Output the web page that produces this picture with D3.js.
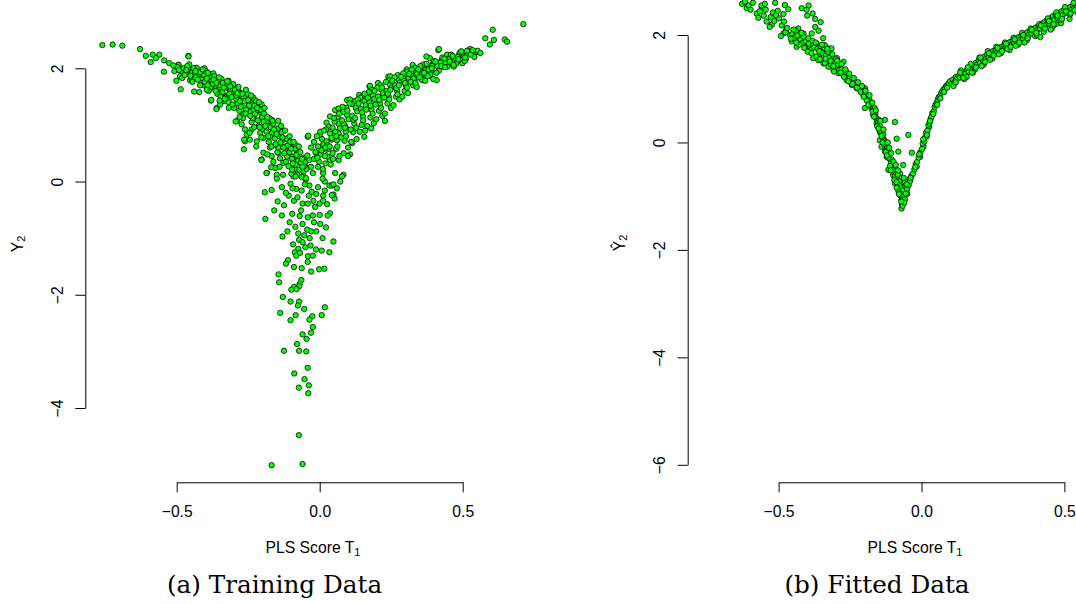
<!DOCTYPE html>
<html>
<head>
<meta charset="utf-8">
<script src="https://cdn.jsdelivr.net/npm/d3@7"></script>
<style>
  html, body { margin: 0; padding: 0; background: #fff; }
  svg { display: block; }
</style>
</head>
<body>
<svg id="chart" width="1076" height="604"></svg>
<script>
// ---- Training data: PLS score T1 against response Y2 ----
const trainLeftBranch = [
  [-0.760,2.41],[-0.724,2.42],[-0.690,2.40],[-0.628,2.34],[-0.608,2.22],[-0.584,2.24],[-0.561,2.24],
  [-0.591,2.11],[-0.573,2.18],[-0.544,2.14],[-0.526,2.09],[-0.545,1.94],[-0.459,2.22],[-0.494,2.06],
  [-0.501,1.78],[-0.486,1.63],[-0.439,1.59],[-0.421,1.58],[-0.380,1.43],[-0.360,1.30],
  [-0.483,1.95],[-0.488,1.86],[-0.471,1.89],[-0.456,2.07],[-0.459,1.98],[-0.453,1.79],[-0.442,1.86],
  [-0.430,2.01],[-0.424,1.89],[-0.407,1.98],[-0.401,1.89],[-0.409,1.78],[-0.407,1.70],[-0.383,1.89],
  [-0.389,1.72],[-0.372,1.91],[-0.366,1.69],[-0.354,1.63],[-0.343,1.81],[-0.337,1.69],[-0.319,1.78],
  [-0.302,1.72],[-0.314,1.60],[-0.343,1.54],[-0.331,1.42],[-0.348,1.36],[-0.325,1.51],[-0.302,1.54],
  [-0.284,1.60],[-0.273,1.51],[-0.261,1.42],[-0.255,1.33],[-0.232,1.48],[-0.244,1.24],[-0.267,1.19],
  [-0.290,1.07],[-0.273,1.01],[-0.261,0.92],[-0.232,1.13],[-0.220,1.24],[-0.203,1.36],[-0.197,1.19],
  [-0.185,1.07],[-0.214,0.98],[-0.238,0.92],[-0.255,0.83],[-0.261,0.71],[-0.265,0.57],[-0.244,0.74],
  [-0.220,0.71],[-0.197,0.77],[-0.174,0.98],[-0.162,0.86],[-0.145,1.07],[-0.133,0.89],[-0.127,0.74],
  [-0.150,0.63],[-0.174,0.60],[-0.197,0.51],[-0.203,0.39],[-0.168,0.45],[-0.145,0.51],[-0.115,0.60],
  [-0.104,0.45],[-0.080,0.54],[-0.075,0.42],[-0.127,0.33],[-0.156,0.24],[-0.185,0.15],[-0.150,0.12],
  [-0.092,0.09],[-0.057,0.18],[-0.051,0.30],
  [-0.459,2.21],[-0.493,2.06],[-0.445,1.94],[-0.397,1.85],[-0.349,1.76],[-0.319,1.74],[-0.276,1.56],
  [-0.228,1.44],[-0.204,1.21],[-0.168,1.09],[-0.144,0.85],[-0.120,0.62],[-0.096,0.44],[-0.072,0.21],
  [-0.379,1.44],[-0.361,1.28],[-0.294,1.06],[-0.264,0.74],[-0.204,0.38],[-0.186,0.15],[-0.403,2.00],
  [-0.090,0.65],[-0.078,0.50],[-0.086,0.65],
  [-0.508,1.95],[-0.497,2.02],[-0.492,1.97],[-0.512,2.05],
  [-0.476,2.00],[-0.468,1.92],[-0.481,1.83],[-0.463,2.04],[-0.472,1.88],[-0.466,1.97],
  [-0.446,1.93],[-0.437,1.90],[-0.448,1.82],[-0.441,2.00],[-0.433,1.84],[-0.445,1.76],
  [-0.418,1.93],[-0.412,1.81],[-0.404,1.88],[-0.415,1.74],[-0.398,1.95],[-0.409,1.98],[-0.402,1.76],
  [-0.386,1.83],[-0.378,1.78],[-0.391,1.92],[-0.374,1.72],[-0.382,1.65],[-0.369,1.86],[-0.388,1.60],
  [-0.356,1.76],[-0.349,1.70],[-0.344,1.62],[-0.358,1.55],[-0.352,1.84],[-0.339,1.74],[-0.347,1.50],
  [-0.327,1.66],[-0.321,1.72],[-0.316,1.55],[-0.329,1.48],[-0.318,1.40],[-0.311,1.64],[-0.323,1.77],
  [-0.296,1.62],[-0.291,1.45],[-0.286,1.38],[-0.299,1.30],[-0.284,1.67],[-0.293,1.52],[-0.281,1.25],
  [-0.266,1.48],[-0.262,1.36],[-0.257,1.27],[-0.268,1.12],[-0.253,1.55],[-0.259,1.20],[-0.264,1.42],
  [-0.236,1.36],[-0.231,1.28],[-0.226,1.19],[-0.238,1.05],[-0.222,1.42],[-0.229,0.96],[-0.234,1.12],
  [-0.206,1.27],[-0.201,1.14],[-0.196,1.05],[-0.208,0.86],[-0.193,1.30],[-0.199,0.93],[-0.204,0.78],
  [-0.176,1.12],[-0.171,0.96],[-0.167,0.86],[-0.178,0.70],[-0.163,1.02],[-0.169,0.62],[-0.174,0.79],
  [-0.146,0.94],[-0.141,0.80],[-0.137,0.69],[-0.148,0.52],[-0.133,0.87],[-0.139,0.41],[-0.144,0.60],
  [-0.116,0.76],[-0.111,0.64],[-0.106,0.52],[-0.118,0.35],[-0.103,0.70],[-0.109,0.27],[-0.114,0.44],
  [-0.086,0.58],[-0.081,0.47],[-0.077,0.36],[-0.088,0.22],[-0.073,0.62],[-0.079,0.12],[-0.084,0.30],
  [-0.056,0.42],[-0.051,0.34],[-0.046,0.22],[-0.058,0.10],[-0.043,0.46],[-0.049,0.03],[-0.054,0.27],
  [-0.452,1.87],[-0.434,1.95],[-0.426,1.80],[-0.418,1.70],[-0.395,1.82],[-0.392,1.70],[-0.371,1.80],
  [-0.364,1.60],[-0.361,1.74],[-0.340,1.58],[-0.335,1.66],[-0.332,1.46],[-0.313,1.68],[-0.308,1.49],
  [-0.305,1.36],[-0.288,1.56],[-0.279,1.42],[-0.276,1.32],[-0.270,1.55],[-0.258,1.62],[-0.250,1.44],
  [-0.247,1.34],[-0.243,1.16],[-0.240,1.52],[-0.228,1.34],[-0.219,1.30],[-0.216,1.08],[-0.212,1.40],
  [-0.210,0.96],[-0.195,1.20],[-0.190,0.98],[-0.186,0.88],[-0.183,1.14],[-0.180,0.80],[-0.165,1.07],
  [-0.160,0.92],[-0.157,0.76],[-0.154,0.66],[-0.151,0.84],[-0.135,0.98],[-0.130,0.78],[-0.127,0.60],
  [-0.124,0.50],[-0.121,0.90],[-0.105,0.80],[-0.100,0.58],[-0.097,0.40],[-0.094,0.32],[-0.091,0.70],
  [-0.068,0.52],[-0.066,0.33],[-0.063,0.08],[-0.099,0.14],[-0.140,0.26],[-0.162,0.35],[-0.183,0.48],
  [-0.222,0.62],[-0.245,0.86],[-0.280,1.14],[-0.318,1.30],[-0.350,1.43],[-0.395,1.62]
];

const trainCentre = [
  [-0.060,0.26],[-0.036,0.38],[-0.024,0.15],[0.012,0.15],[0.036,0.38],[0.024,0.56],[-0.012,0.50],
  [-0.042,0.79],[0.006,0.62],[-0.006,0.26],[-0.084,0.09],[-0.048,0.06],[0.018,0.00],[0.054,0.15],
  [0.066,0.38],[0.084,0.50],[0.042,0.74],[0.066,0.85],[0.090,0.97],[-0.096,0.21],[-0.030,0.26],
  [-0.082,-0.13],[-0.063,-0.16],[-0.038,-0.25],[-0.012,-0.22],[0.012,-0.25],[0.034,-0.07],[0.036,-0.56],
  [0.022,-0.81],[0.002,-0.75],[-0.012,-0.88],[-0.030,-0.88],[-0.044,-0.85],[-0.060,-0.75],[-0.070,-0.61],
  [-0.065,-0.51],[-0.042,-0.63],[-0.024,-0.60],[0.000,-0.59],[-0.060,-0.39],[-0.042,-0.39],[-0.022,-0.34],
  [0.000,-0.39],[0.012,-0.34],[-0.090,-0.34],[-0.096,-0.57],[-0.075,-0.92],[-0.054,-0.95],[-0.072,-1.03],
  [-0.060,-1.07],[-0.050,-1.16],[-0.032,-1.13],[-0.013,-1.20],[-0.075,-1.19],[-0.087,-1.25],[-0.082,-1.31],
  [-0.069,-1.26],[-0.041,-1.32],[-0.024,-1.31],[-0.042,-1.42],[-0.147,-0.35],[-0.125,-0.42],[-0.108,-0.25],
  [-0.132,-0.10],[-0.102,-0.04],[-0.036,-0.07],[-0.006,-0.10],[0.018,-0.16],[0.043,-0.07],
  [-0.118,-0.20],[-0.095,-0.12],[-0.078,-0.28],[-0.052,-0.05],[-0.028,-0.18],[-0.016,-0.45],[0.026,-0.40],
  [0.052,-0.30],[-0.105,-0.72],[-0.085,-0.80],[-0.035,-1.00],[0.010,-1.00],[-0.020,-0.72],[0.028,-0.60],
  [-0.150,0.05],[-0.170,0.25],[-0.128,0.12],[-0.062,0.40],[-0.020,0.40],[0.020,0.32],[0.045,0.50],
  [-0.030,0.60],[0.010,0.05],[0.060,-0.12],[0.106,0.48],[0.083,0.12],[0.048,-0.23],
  [-0.192,-0.19],[-0.168,-0.15],[-0.190,-0.66],[-0.159,-0.51],[-0.132,-0.60],[-0.113,-0.88],[-0.130,-0.97],
  [0.048,-1.06],[0.034,-1.25],[0.007,-1.22],[-0.093,-1.11],[-0.111,-1.39],[-0.118,-1.45],[-0.090,-1.51],
  [-0.063,-1.53],[-0.030,-1.59],[-0.002,-1.55],[0.016,-1.54],[-0.144,-1.64],[-0.142,-1.78],[-0.064,-1.74],
  [-0.070,-1.81],[-0.090,-1.86],[-0.072,-1.85],[-0.099,-1.91],[-0.081,-1.90],[-0.129,-2.04],[-0.102,-2.12],
  [-0.072,-2.12],[-0.076,-2.19],[-0.054,-2.25],[0.018,-2.22],[-0.138,-2.32],[-0.084,-2.36],[-0.102,-2.45],
  [-0.026,-2.38],[-0.036,-2.44],[0.007,-2.36],[-0.024,-2.57],[-0.030,-2.67],[-0.060,-2.70],[-0.046,-2.78],
  [-0.079,-2.87],[-0.072,-2.99],[-0.047,-3.00],[-0.125,-2.99],[-0.042,-3.29],[-0.089,-3.39],[-0.053,-3.49],
  [-0.073,-3.64],[-0.038,-3.60],[-0.040,-3.74],[-0.073,-4.48],[-0.168,-5.01],[-0.060,-4.99]
];

const trainRightBranch = [
  [-0.040,0.81],[0.000,0.82],[0.054,1.26],[0.096,1.44],[0.138,1.53],[0.174,1.68],[0.204,1.74],[0.240,1.85],
  [0.325,2.06],[0.385,2.18],[0.415,2.32],[0.445,2.24],[0.493,2.29],[0.523,2.32],[0.544,2.28],[0.469,2.03],
  [0.499,2.09],[0.361,1.79],[0.409,1.79],[0.228,1.07],[0.156,0.79],[0.180,0.94],[0.099,0.45],[0.072,0.00],
  [0.042,-0.24],[0.579,2.53],[0.605,2.68],[0.595,2.42],[0.609,2.50],[0.647,2.51],[0.655,2.47],[0.712,2.78],
  [0.114,0.68],[0.078,0.09],[0.036,1.15],[0.066,1.29],[0.373,2.21],[0.417,2.34],[0.526,2.34],[0.547,2.29],
  [0.496,2.25],[0.397,1.81],[0.176,1.69],[0.246,1.86],[0.304,1.98],[0.024,1.04],[0.106,1.45],[0.048,-0.05],
  [-0.006,0.62],[0.004,0.48],[0.008,0.75],[-0.002,0.35],[0.011,0.22],[0.002,0.88],[0.006,0.55],[-0.008,0.42],[0.013,0.66],
  [0.024,0.71],[0.031,0.58],[0.036,0.85],[0.027,0.44],[0.039,0.30],[0.033,0.97],[0.022,0.92],[0.028,0.64],[0.041,0.77],
  [0.054,0.88],[0.061,0.73],[0.066,1.02],[0.057,0.58],[0.069,0.45],[0.063,1.14],[0.052,1.06],[0.058,0.80],[0.071,0.94],
  [0.084,1.02],[0.091,0.88],[0.096,1.17],[0.087,0.72],[0.099,0.60],[0.093,1.30],[0.082,1.23],[0.088,0.95],[0.101,1.10],
  [0.114,1.16],[0.121,1.02],[0.126,1.30],[0.117,0.87],[0.129,0.75],[0.123,1.42],[0.112,1.37],[0.118,1.09],[0.131,1.24],
  [0.144,1.28],[0.151,1.15],[0.156,1.42],[0.147,1.00],[0.159,0.90],[0.153,1.52],[0.142,1.48],[0.148,1.22],[0.161,1.35],
  [0.174,1.40],[0.181,1.27],[0.186,1.52],[0.177,1.13],[0.189,1.03],[0.183,1.62],[0.172,1.58],[0.178,1.34],[0.191,1.46],
  [0.204,1.50],[0.211,1.38],[0.216,1.62],[0.207,1.25],[0.219,1.16],[0.213,1.70],[0.202,1.66],[0.208,1.44],[0.221,1.56],
  [0.234,1.60],[0.241,1.50],[0.246,1.71],[0.237,1.38],[0.249,1.30],[0.243,1.79],[0.232,1.76],[0.238,1.55],[0.251,1.66],
  [0.264,1.70],[0.271,1.60],[0.276,1.80],[0.267,1.50],[0.279,1.45],[0.273,1.88],[0.262,1.84],[0.268,1.65],[0.281,1.75],
  [0.294,1.78],[0.301,1.70],[0.306,1.87],[0.297,1.60],[0.309,1.56],[0.303,1.94],[0.292,1.91],[0.298,1.74],[0.311,1.83],
  [0.324,1.86],[0.331,1.78],[0.336,1.94],[0.327,1.70],[0.339,1.67],[0.333,2.01],[0.322,1.98],[0.328,1.82],[0.341,1.90],
  [0.354,1.94],[0.361,1.87],[0.366,2.01],[0.357,1.80],[0.369,1.78],[0.363,2.07],[0.352,2.04],[0.358,1.90],[0.371,1.97],
  [0.384,2.01],[0.391,1.95],[0.396,2.08],[0.387,1.89],[0.399,2.13],[0.393,2.04],[0.381,1.98],
  [0.414,2.07],[0.421,2.01],[0.426,2.14],[0.417,1.96],[0.429,2.19],[0.423,2.10],[0.411,2.04],
  [0.444,2.13],[0.451,2.07],[0.456,2.19],[0.447,2.03],[0.459,2.24],[0.453,2.16],[0.441,2.10],
  [0.474,2.17],[0.481,2.12],[0.486,2.23],[0.477,2.08],[0.489,2.27],[0.483,2.20],
  [0.504,2.21],[0.511,2.16],[0.516,2.26],[0.507,2.13],[0.519,2.30],
  [0.534,2.25],[0.541,2.20],[0.552,2.31],[0.562,2.27],
  [-0.020,0.70],[-0.015,0.52],[-0.010,0.80],[0.015,0.90],[0.018,0.45],[0.020,0.60],[0.035,0.62],
  [0.045,0.95],[0.047,0.40],[0.050,1.12],[0.062,0.62],[0.068,1.20],[0.075,0.78],[0.078,1.08],
  [0.080,1.32],[0.092,0.80],[0.097,1.25],[0.104,1.38],[0.108,0.92],[0.110,0.70],[0.124,1.12],
  [0.128,0.95],[0.133,1.45],[0.136,1.38],[0.140,0.88],[0.152,1.08],[0.157,1.55],[0.163,1.27],
  [0.166,0.98],[0.168,1.48],[0.185,1.20],[0.192,1.60],[0.195,1.36],[0.198,1.10],[0.214,1.30],
  [0.218,1.66],[0.225,1.48],[0.228,1.20],[0.243,1.45],[0.247,1.62],[0.254,1.78],[0.258,1.35],
  [0.272,1.54],[0.277,1.70],[0.285,1.85],[0.289,1.50],[0.305,1.66],[0.313,1.90],[0.318,1.76],
  [0.335,1.74],[0.345,1.98],[0.348,1.84],[0.365,1.92],[0.374,2.08],[0.378,1.86],[0.392,2.00],
  [0.405,2.12],[0.408,1.92],[0.425,2.04],[0.436,2.17],[0.438,2.02],[0.455,2.12],[0.465,2.22],
  [0.468,2.06],[0.485,2.16],[0.495,2.30],[0.508,2.19],[0.515,2.31],[0.528,2.24],[0.535,2.32]
];

// ---- Fitted values: PLS score T1 against predicted Y2 ----
const fittedLeftBranch = [
  [-0.612,2.50],[-0.559,2.52],[-0.577,2.40],[-0.545,2.47],[-0.499,2.31],[-0.483,2.39],[-0.542,2.25],
  [-0.524,2.19],[-0.419,2.50],[-0.400,2.36],[-0.381,2.40],[-0.353,2.24],[-0.372,2.15],[-0.360,2.08],
  [-0.384,2.03],[-0.483,2.03],[-0.474,2.09],[-0.460,2.00],[-0.454,1.88],[-0.443,1.91],[-0.431,2.12],
  [-0.425,2.00],[-0.413,2.03],[-0.437,1.78],[-0.408,1.78],[-0.391,1.78],[-0.367,1.84],[-0.344,1.94],
  [-0.338,1.81],[-0.326,1.75],[-0.315,1.75],[-0.349,1.69],[-0.379,1.57],[-0.361,1.53],[-0.343,1.47],
  [-0.326,1.41],[-0.320,1.66],[-0.296,1.57],[-0.302,1.47],[-0.285,1.41],[-0.273,1.50],[-0.308,1.35],
  [-0.291,1.29],[-0.273,1.25],[-0.262,1.16],[-0.244,1.19],[-0.244,1.07],[-0.227,1.01],[-0.215,0.98],
  [-0.198,1.01],[-0.203,0.88],[-0.192,0.82],[-0.180,0.73],[-0.198,0.64],[-0.175,0.64],[-0.169,0.51],
  [-0.157,0.36],[-0.146,0.20],[-0.128,0.42],[-0.093,0.38],[-0.146,0.04],[-0.140,-0.08],[-0.128,-0.17],
  [-0.087,0.07],[-0.046,0.14],[-0.034,-0.19],[-0.122,-0.27],[-0.104,-0.39],[-0.081,-0.17],[-0.064,-0.42],
  [-0.116,-0.51],[-0.099,-0.61],[-0.075,-0.58],[-0.093,-0.76],[-0.075,-0.83],[-0.058,-0.73],[-0.040,-0.67],
  [-0.064,-0.95],[-0.070,-1.07],[-0.070,-1.23],[-0.052,-0.89],[-0.046,-0.76],
  [-0.628,2.58],[-0.605,2.55],[-0.590,2.60],[-0.618,2.62],[-0.598,2.47],
  [-0.566,2.44],[-0.552,2.36],[-0.560,2.55],[-0.571,2.32],[-0.548,2.58],
  [-0.528,2.33],[-0.515,2.26],[-0.520,2.42],[-0.531,2.15],[-0.509,2.37],[-0.512,2.60],[-0.503,2.45],
  [-0.489,2.18],[-0.476,2.05],[-0.481,2.25],[-0.492,1.98],[-0.470,2.13],[-0.466,2.48],[-0.478,2.56],
  [-0.452,2.02],[-0.446,1.95],[-0.440,2.08],[-0.457,1.93],[-0.435,1.99],
  [-0.424,1.91],[-0.417,1.85],[-0.412,1.97],[-0.428,1.82],[-0.405,1.88],[-0.402,2.47],[-0.395,2.55],
  [-0.394,1.84],[-0.387,1.72],[-0.382,1.89],[-0.398,1.69],[-0.376,1.77],[-0.372,2.30],
  [-0.364,1.74],[-0.357,1.62],[-0.352,1.79],[-0.368,1.60],[-0.346,1.66],[-0.355,1.55],
  [-0.334,1.63],[-0.327,1.52],[-0.322,1.58],[-0.338,1.48],[-0.316,1.45],[-0.329,1.69],
  [-0.304,1.50],[-0.298,1.40],[-0.293,1.45],[-0.308,1.42],[-0.288,1.35],[-0.300,1.55],
  [-0.275,1.34],[-0.268,1.27],[-0.262,1.30],[-0.279,1.36],[-0.258,1.21],[-0.271,1.22],
  [-0.246,1.17],[-0.239,1.12],[-0.234,1.14],[-0.250,1.20],[-0.229,1.06],[-0.242,1.09],
  [-0.217,1.02],[-0.210,0.97],[-0.205,0.99],[-0.221,1.04],[-0.200,0.91],[-0.213,0.94],
  [-0.194,0.86],[-0.188,0.80],[-0.184,0.83],[-0.197,0.90],[-0.180,0.76],[-0.191,0.78],
  [-0.174,0.68],[-0.168,0.60],[-0.164,0.64],[-0.177,0.71],[-0.161,0.55],[-0.171,0.58],
  [-0.158,0.45],[-0.152,0.38],[-0.149,0.42],[-0.161,0.48],[-0.146,0.32],[-0.155,0.30],
  [-0.143,0.18],[-0.137,0.10],[-0.134,0.15],[-0.146,0.22],[-0.131,0.05],[-0.140,0.12],[-0.128,0.02],
  [-0.128,-0.06],[-0.122,-0.14],[-0.119,-0.08],[-0.131,-0.02],[-0.116,-0.20],[-0.125,-0.18],[-0.113,-0.10],
  [-0.113,-0.30],[-0.107,-0.38],[-0.104,-0.32],[-0.116,-0.28],[-0.101,-0.46],[-0.110,-0.44],[-0.098,-0.36],[-0.093,-0.50],
  [-0.098,-0.55],[-0.092,-0.62],[-0.089,-0.56],[-0.101,-0.52],[-0.086,-0.68],[-0.095,-0.70],[-0.083,-0.60],[-0.078,-0.72],
  [-0.084,-0.78],[-0.078,-0.86],[-0.075,-0.80],[-0.087,-0.74],[-0.072,-0.92],[-0.081,-0.90],[-0.069,-0.84],[-0.064,-0.88],
  [-0.072,-1.00],[-0.067,-1.06],[-0.064,-1.12],[-0.075,-0.98],[-0.061,-1.00],[-0.068,-1.15],[-0.058,-1.06],[-0.066,-1.18],
  [-0.448,2.10],[-0.438,1.86],[-0.420,2.04],[-0.410,1.76],[-0.396,1.94],[-0.385,1.66],[-0.370,1.86],
  [-0.358,1.70],[-0.348,1.82],[-0.336,1.56],[-0.330,1.74],[-0.318,1.52],[-0.312,1.64],[-0.306,1.32],
  [-0.295,1.52],[-0.283,1.30],[-0.280,1.46],[-0.266,1.36],[-0.256,1.14],[-0.253,1.28],[-0.237,1.20],
  [-0.226,1.02],[-0.222,1.12],[-0.208,1.05],[-0.202,0.85],[-0.196,0.96],[-0.186,0.70],[-0.182,0.88],
  [-0.172,0.74],[-0.166,0.48],[-0.160,0.60],[-0.150,0.26],[-0.144,0.40],[-0.136,0.00],[-0.133,0.24],
  [-0.121,-0.24],[-0.118,0.00],[-0.108,-0.52],[-0.106,-0.20],[-0.090,-0.42],[-0.087,-0.84],[-0.082,-0.52],
  [-0.079,-0.96],[-0.062,-0.66],[-0.056,-0.82],[-0.050,-0.96],[-0.060,-1.12],[-0.071,-1.10]
];

const fittedRightBranch = [
  [-0.017,-0.45],[-0.005,-0.27],[0.007,-0.08],[0.018,0.11],[0.027,0.29],
  [-0.055,-0.95],[-0.050,-0.86],[-0.045,-0.80],[-0.040,-0.72],[-0.035,-0.62],[-0.030,-0.58],[-0.025,-0.50],
  [-0.020,-0.40],[-0.015,-0.36],[-0.010,-0.28],[-0.004,-0.18],[0.002,-0.12],[0.004,-0.02],[0.010,0.02],
  [0.013,0.10],[0.016,0.18],[0.021,0.22],[0.024,0.32],[0.028,0.36],[0.032,0.44],[0.035,0.48],[0.038,0.55],
  [0.043,0.58],[0.046,0.66],[0.049,0.70],[0.053,0.74],[0.057,0.80],[0.060,0.84],[0.064,0.86],[0.069,0.92],
  [0.073,0.95],[0.077,0.99],[0.082,1.00],[0.086,1.05],[0.091,1.07],[0.095,1.10],[-0.052,-0.78],[-0.038,-0.66],
  [-0.022,-0.46],[-0.008,-0.22],[0.006,0.06],[0.019,0.14],[0.030,0.40],[0.041,0.53],[0.055,0.70],[0.066,0.82],
  [0.079,0.94],[0.090,1.02],
  [0.100,1.14],[0.106,1.10],[0.110,1.17],[0.115,1.12],[0.120,1.22],[0.125,1.19],[0.130,1.24],[0.135,1.21],
  [0.140,1.28],[0.145,1.25],[0.150,1.31],[0.155,1.28],[0.160,1.36],[0.165,1.32],[0.170,1.40],[0.175,1.37],
  [0.180,1.44],[0.185,1.40],[0.190,1.48],[0.195,1.45],[0.200,1.53],[0.205,1.48],[0.210,1.56],[0.215,1.52],
  [0.220,1.60],[0.225,1.55],[0.230,1.64],[0.235,1.59],[0.240,1.67],[0.245,1.62],[0.250,1.70],[0.255,1.66],
  [0.260,1.73],[0.265,1.68],[0.270,1.76],[0.275,1.71],[0.280,1.78],[0.285,1.74],[0.290,1.81],[0.295,1.76],
  [0.300,1.84],[0.305,1.79],[0.310,1.87],[0.315,1.82],[0.320,1.90],[0.325,1.85],[0.330,1.93],[0.335,1.88],
  [0.340,1.96],[0.345,1.91],[0.350,1.99],[0.355,1.94],[0.360,2.02],[0.365,1.97],[0.370,2.05],[0.375,2.00],
  [0.380,2.08],[0.385,2.03],[0.390,2.11],[0.395,2.06],[0.400,2.14],[0.405,2.09],[0.410,2.17],[0.415,2.12],
  [0.420,2.21],[0.425,2.15],[0.430,2.24],[0.435,2.18],[0.440,2.28],[0.445,2.22],[0.450,2.31],[0.455,2.25],
  [0.460,2.35],[0.465,2.29],[0.470,2.38],[0.475,2.32],[0.480,2.41],[0.485,2.35],[0.490,2.44],[0.495,2.38],
  [0.500,2.47],[0.505,2.41],[0.510,2.50],[0.515,2.44],[0.520,2.52],[0.525,2.47],[0.530,2.55],[0.535,2.50],
  [0.540,2.58],[0.545,2.53],
  [0.112,1.05],[0.138,1.34],[0.158,1.22],[0.172,1.46],[0.188,1.36],[0.203,1.58],[0.218,1.45],[0.232,1.70],
  [0.248,1.56],[0.262,1.78],[0.278,1.66],[0.292,1.86],[0.308,1.72],[0.322,1.95],[0.338,1.82],[0.352,2.04],
  [0.368,1.90],[0.382,2.12],[0.398,1.98],[0.412,2.20],[0.428,2.06],[0.442,2.31],[0.458,2.14],[0.472,2.42],
  [0.488,2.22],[0.502,2.52],[0.518,2.30],[0.532,2.60],[0.548,2.40],[0.404,2.00],[0.416,1.96],[0.452,2.10],
  [0.486,2.28],[0.520,2.38],[0.470,2.20],[0.360,1.86],[0.330,1.80],[0.300,1.74],[0.270,1.64],[0.240,1.54],
  [0.210,1.42],[0.180,1.30],[0.150,1.18],
  [0.120,1.12],[0.135,1.30],[0.146,1.20],[0.162,1.40],[0.176,1.30],[0.190,1.40],[0.206,1.58],[0.222,1.50],
  [0.236,1.66],[0.252,1.62],[0.266,1.76],[0.282,1.70],[0.296,1.84],[0.312,1.78],[0.326,1.92],[0.342,1.86],
  [0.356,2.00],[0.372,1.94],[0.386,2.10],[0.402,2.04],[0.418,2.18],[0.432,2.12],[0.446,2.26],[0.462,2.20],
  [0.476,2.36],[0.492,2.30],[0.506,2.44],[0.522,2.40],[0.536,2.46],[0.550,2.55]
];

// ---- Axis ticks and labels ----
const xTicks = [-0.5, 0, 0.5];
const trainYTicks = [-4, -2, 0, 2];
const fittedYTicks = [-6, -4, -2, 0, 2];
const xTitleMain = "PLS Score T";
const xTitleSub = "1";
const trainYTitle = "Y";
const fittedYTitle = "\u0176";
const yTitleSub = "2";
const captions = ["(a) Training Data", "(b) Fitted Data"];

// ---- Layout of the two panels ----
const panels = [
  {
    points: trainLeftBranch.concat(trainCentre, trainRightBranch),
    yTicks: trainYTicks, yTitle: trainYTitle, caption: captions[0],
    plotLeft: 85.3, xRange: [176.7, 462.7], yRange: [408.0, 68.3],
    xTitleX: 313, yTitleY: 244, captionX: 274.5
  },
  {
    points: fittedLeftBranch.concat(fittedRightBranch),
    yTicks: fittedYTicks, yTitle: fittedYTitle, caption: captions[1],
    plotLeft: 687.7, xRange: [778.6, 1064.4], yRange: [464.8, 35.0],
    xTitleX: 915, yTitleY: 243, captionX: 877
  }
];

const axisY = 482.3;
const tickLen = 10;
const sansFont = "'Liberation Sans', Arial, Helvetica, sans-serif";
const serifFont = "'DejaVu Serif', 'Liberation Serif', serif";

const svg = d3.select("#chart");
svg.append("rect").attr("width", 1076).attr("height", 604).attr("fill", "#fff");

panels.forEach(p => {
  const x = d3.scaleLinear().domain([xTicks[0], xTicks[xTicks.length - 1]]).range(p.xRange);
  const y = d3.scaleLinear().domain([p.yTicks[0], p.yTicks[p.yTicks.length - 1]]).range(p.yRange);

  // points: filled circles with a dark outline
  svg.append("g")
    .selectAll("circle")
    .data(p.points)
    .join("circle")
    .attr("cx", d => x(d[0]))
    .attr("cy", d => y(d[1]))
    .attr("r", 2.7)
    .attr("fill", "#00ff00")
    .attr("stroke", "#0a0a0a")
    .attr("stroke-width", 0.8);

  // bottom axis
  const gx = svg.append("g")
    .attr("transform", `translate(0,${axisY})`)
    .call(d3.axisBottom(x).tickValues(xTicks).tickSize(tickLen).tickSizeOuter(0)
      .tickFormat(d3.format(".1f")));
  gx.select(".domain").attr("stroke", "#000").attr("stroke-width", 1);
  gx.selectAll(".tick line").attr("stroke", "#000").attr("stroke-width", 1);
  gx.selectAll(".tick text")
    .attr("y", 35).attr("dy", 0)
    .attr("font-family", sansFont).attr("font-size", 15.7).attr("fill", "#000")
    .text(d => d3.format(".1f")(d).replace("-", "\u2212"));

  // left axis
  const gy = svg.append("g")
    .attr("transform", `translate(${p.plotLeft},0)`)
    .call(d3.axisLeft(y).tickValues(p.yTicks).tickSize(tickLen).tickSizeOuter(0)
      .tickFormat(d3.format("d")));
  gy.select(".domain").attr("stroke", "#000").attr("stroke-width", 1);
  gy.selectAll(".tick line").attr("stroke", "#000").attr("stroke-width", 1);
  gy.selectAll(".tick text")
    .attr("transform", "rotate(-90)")
    .attr("x", 0).attr("y", -22.8).attr("dy", 0)
    .attr("text-anchor", "middle")
    .attr("font-family", sansFont).attr("font-size", 15.7).attr("fill", "#000")
    .text(d => String(d).replace("-", "\u2212"));

  // x axis title with subscript
  const xt = svg.append("text")
    .attr("x", p.xTitleX).attr("y", 553.3)
    .attr("text-anchor", "middle")
    .attr("font-family", sansFont).attr("font-size", 15.7).attr("fill", "#000");
  xt.append("tspan").text(xTitleMain);
  xt.append("tspan").attr("font-size", 11).attr("dy", 2.5).text(xTitleSub);

  // y axis title with subscript
  const yt = svg.append("text")
    .attr("transform", `translate(${p.plotLeft - 62.8},${p.yTitleY}) rotate(-90)`)
    .attr("text-anchor", "middle")
    .attr("font-family", sansFont).attr("font-size", 15.7).attr("fill", "#000");
  yt.append("tspan").text(p.yTitle);
  yt.append("tspan").attr("font-size", 11).attr("dy", 2.5).text(yTitleSub);

  // caption under the panel
  svg.append("text")
    .attr("x", p.captionX).attr("y", 593.3)
    .attr("text-anchor", "middle")
    .attr("font-family", serifFont).attr("font-size", 24.7).attr("fill", "#000")
    .text(p.caption);
});
</script>
</body>
</html>
